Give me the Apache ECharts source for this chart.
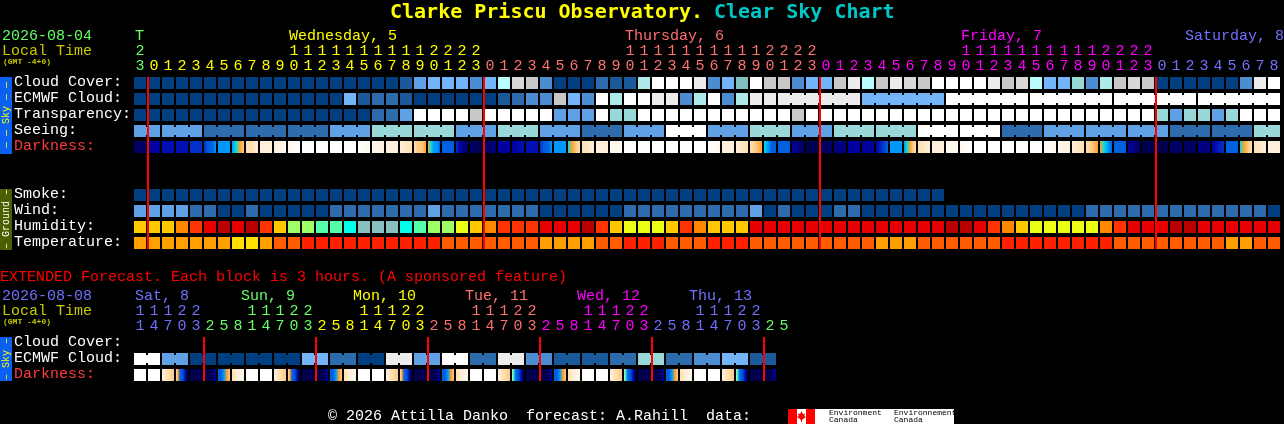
<!DOCTYPE html>
<html><head><meta charset="utf-8"><title>Clear Sky Chart</title>
<style>html,body{margin:0;padding:0;background:#000;overflow:hidden}#c{width:1284px;height:424px}</style>
<script src="https://cdn.jsdelivr.net/npm/echarts@6/dist/echarts.min.js"></script></head>
<body><div id="c"></div>
<script>
// ---------- tick labels ----------
const mainHours = [23,0,1,2,3,4,5,6,7,8,9,10,11,12,13,14,15,16,17,18,19,20,21,22,23,
  0,1,2,3,4,5,6,7,8,9,10,11,12,13,14,15,16,17,18,19,20,21,22,23,
  0,1,2,3,4,5,6,7,8,9,10,11,12,13,14,15,16,17,18,19,20,21,22,23,
  0,1,2,3,4,5,6,7,8];
const mainDayOfCell = [0, 1,1,1,1,1,1,1,1,1,1,1,1,1,1,1,1,1,1,1,1,1,1,1,1,
  2,2,2,2,2,2,2,2,2,2,2,2,2,2,2,2,2,2,2,2,2,2,2,2,
  3,3,3,3,3,3,3,3,3,3,3,3,3,3,3,3,3,3,3,3,3,3,3,3,
  4,4,4,4,4,4,4,4,4];
const extHours = [11,14,17,20,23, 2,5,8,11,14,17,20,23, 2,5,8,11,14,17,20,23,
  2,5,8,11,14,17,20,23, 2,5,8,11,14,17,20,23, 2,5,8,11,14,17,20,23, 2,5];
const extDayOfCell = [0,0,0,0,0, 1,1,1,1,1,1,1,1, 2,2,2,2,2,2,2,2, 3,3,3,3,3,3,3,3,
  4,4,4,4,4,4,4,4, 5,5,5,5,5,5,5,5, 6,6];
const mainDayNames = [[0,'T',0],[11,'Wednesday, 5',1],[35,'Thursday, 6',2],[59,'Friday, 7',3],[75,'Saturday, 8',4]];
const extDayNames = [[0,'Sat, 8',0],[8,'Sun, 9',1],[16,'Mon, 10',2],[24,'Tue, 11',3],[32,'Wed, 12',4],[40,'Thu, 13',5]];
const mainRowNames = ['Cloud Cover:','ECMWF Cloud:','Transparency:','Seeing:','Darkness:','',' ','Smoke:','Wind:','Humidity:','Temperature:'];
const extRowNames = ['Cloud Cover:','ECMWF Cloud:','Darkness:'];
const mainMidnights = [1,25,49,73];
const extMidnights = [5,13,21,29,37,45];

// ---------- series values (levels on each scale) ----------
const cloudCover = [0,0,0,0,0,0,0,0,0,0, 0,0,0,0,0,0,0,0,0,1,
  4,5,5,5,3,5,9,11,10,3, 0,0,0,2,1,1,8,13,13,13,
  12,3,5,6,13,10,10,3,5,5, 10,12,9,10,12,11,10,13,13,13,
  13,12,10,11,9,5,5,7,3,8, 10,11,10,0,0,0,0,0,0,3,12,13];
const ecmwfCloud = [0,0,0,0,0,0,0,0,0,0, 0,0,0,0,0,5,1,2,2,1,
  0,0,0,0,0,0,1,2,3,3, 10,5,3,13,8,13,13,12,12,3,
  8,13,3,8,12,12,12,12,12,12, 12,12,5,5,5,5,5,5,13,13,
  13,13,13,13,13,13,13,13,13,13, 13,13,13,13,13,13,13,13,13,13,13,13];
const ecmwfBlocks = [1,1,1,1,1,1,1,1,1,1,1,1,1,1,1,1,1,1,1,1,1,1,1,1,1,1,1,1,1,1,1,1,1,1,1,1,1,1,1,1,1,1,1,1,1,1, 6,6,6,6,6,6];
const transparency = [0,0,0,0,0,0,0,0,0,0, 0,0,0,0,0,0,0,2,2,4,
  13,13,13,13,10,13,13,13,13,13, 4,4,4,13,7,7,13,13,13,13,
  13,13,13,13,13,13,13,10,13,13, 13,13,13,13,13,13,13,13,13,13,
  13,13,13,13,13,13,13,13,13,13, 13,13,13,7,4,7,7,4,7,13,13,13];
const seeingBlocks = [2,3,3,3,3,3,3,3,3,3,3,3,3,3,3,3,3,3,3,3,3,3,3,3,3,3,3,2];
const seeing = [4,4,2,2,2,4,7,7,4,7,4,2,4,13,4,7,4,7,7,13,13,2,4,4,4,2,2,7];
const darkness = [[1],[3],[4],[4],[5],[5,6,6,7],[7],[7,8,9,10],[11,11,12],[12],
  [12,13],[13,14],[14],[14],[14],[14],[14,13],[13,12],[12],[12,11],
  [11,10,10,9],[9,8,7,7,6],[6],[5,3,2,1],[1,0],[1,2],[3],[3,4],[4],[5,6,6,7],
  [7],[8,9,10,11],[11,12],[12],[13],[14],[14],[14],[14],[14],
  [14],[14,13],[12],[12,11],[11,10,9],[8,7,6,6],[6],[3,2,1],[0],[1],
  [2],[3],[3],[3,5,6],[7],[7,8,9,10,11],[11,12],[12],[13],[13,14],
  [14],[14],[14],[14],[14],[14,13],[13,12],[12,11],[11,10,9],[9,8,7,6],
  [6],[3,2,1],[0],[0],[1],[1],[2],[3,5],[6],[8,9,10,11],[11,12],[12]];
const smoke = [0,0,0,0,0,0,0,0,0,0, 0,0,0,0,0,0,0,0,0,0, 0,0,0,0,0,0,0,0,0,0,
  0,0,0,0,0,0,0,0,0,0, 0,0,0,0,0,0,0,0,0,0, 0,0,0,0,0,0,0,0];
const wind = [4,4,4,4,2,2,0,0,2,0, 0,0,0,0,2,2,2,2,2,2,
  2,4,2,2,2,2,2,2,2,0, 0,0,0,0,0,2,2,2,2,2,
  2,2,2,2,4,0,2,0,0,0, 2,2,0,0,0,0,0,0,0,0,
  0,0,0,0,0,0,0,0,2,2, 2,2,2,2,2,2,2,2,2,2,2,0];
const humidity = [4,4,4,3,2,1,0,1,0,2, 4,6,6,7,7,9,8,8,8,9,
  7,6,6,5,4,3,2,2,2,1, 1,1,0,2,4,5,5,5,4,2,
  3,4,4,4,1,1,1,1,1,1, 1,1,1,1,1,1,1,1,0,0,
  1,2,3,4,5,5,5,5,5,3, 2,1,1,1,0,0,1,1,1,1,1,1];
const temperature = [2,2,2,2,2,2,2,3,3,2, 1,1,0,0,0,0,0,0,0,0,
  0,0,1,1,1,1,1,1,1,2, 2,2,2,1,1,0,0,0,1,1,
  1,0,0,0,1,1,1,1,1,1, 1,1,1,2,2,2,1,1,1,1,
  1,1,0,0,0,0,0,0,0,0, 1,1,1,1,1,1,1,1,2,2,1,1];
const extEcmwf = [13,13,4,4,0,0,0,0,0,0, 0,0,5,5,2,2,0,0,12,12, 4,4,13,13,2,2,12,12,3,3,
  1,1,1,1,2,2,7,7,2,2, 3,3,5,5,1,1];
const extEcmwfBlocks = [2,2,2,2,2,2,2,2,2,2,2,2,2,2,2,2,2,2,2,2,2,2,2];
const extDarkness = [[14],[14],[12,11,10],[11,9,6,6,5,2,0],[0],[0,0,0,1,3],[6,6,7,9,10],[11,12,13],
  [14],[14],[12,11,10],[11,9,6,6,5,2,0],[0],[0,0,0,1,3],[6,6,7,9,10],[11,12,13],
  [14],[14],[12,11,10],[11,9,6,6,5,2,0],[0],[0,0,0,1,3],[6,6,7,9,10],[11,12,13],
  [14],[14],[12,11,10],[11,8,6,6,5,2,0],[0],[0,0,0,1,3],[6,6,7,9,10],[11,12,13],
  [14],[14],[12,11,10],[11,8,6,6,5,2,0],[0],[0,0,0,1,3],[6,6,7,9,10],[11,12,13],
  [14],[14],[12,11,10],[11,8,6,6,5,2,0],[0],[0,0,0,1,3]];

// ---------- palettes ----------
const skyColors = ['#003f7f','#1a5a9a','#2c6cac','#4c8cd0','#60a0e4','#74b4f8','#80c0c0','#98d8d8','#aeeaea','#b8fcfc','#c8c8c8','#d8d8d8','#ececec','#ffffff'];
const humidityColors = ['#b80000','#e60000','#ff3300','#ff8800','#ffc800','#ebff14','#9dff66','#55ffaa','#88c0c0','#00ffe8'];
const temperatureColors = ['#ff2000','#ff5c00','#ffa000','#ffe000'];
const darkColors = ['#00004e','#000064','#000080','#0000a0','#0010b4','#0030c8','#0060e0','#0098fc','#00e0e0','#ffa030','#ffc880','#ffe0b0','#fff0dc','#fff8f0','#ffffff'];
const mainDayColors = ['#66ff66','#ffff00','#ff7070','#ff00ff','#7070ff'];
const extDayColors = ['#7070ff','#66ff66','#ffff00','#ff7070','#ff00ff','#7070ff','#66ff66'];

const MONO = '"Liberation Mono", monospace';
const TITLE_MONO = '"DejaVu Sans Mono", monospace';
const blocksExpand = (vals, sizes) => vals.flatMap((v, i) => Array(sizes[i]).fill(v));
function joins(sizes) {
  const s = new Set(); let p = 0;
  sizes.forEach(n => { for (let k = 0; k < n - 1; k++) s.add(p + k); p += n; });
  return s;
}
function cellGeom(api, x, row) {
  const c = api.coord([x, row]);
  const bw = api.size([1, 0])[0];
  return { x: c[0] - bw / 2 + 1, y: c[1] - 6, w: bw - 2, h: 12 };
}
function cellSeries(xi, yi, row, values, palette, sizes, name) {
  const joined = sizes ? joins(sizes) : new Set();
  return {
    type: 'custom', name, xAxisIndex: xi, yAxisIndex: yi, silent: true, animation: false, z: 2,
    encode: { x: 0, y: 1 },
    data: values.map((v, i) => [i, row, v]),
    renderItem(params, api) {
      const i = api.value(0), g = cellGeom(api, i, api.value(1));
      const fill = palette[api.value(2)];
      const kids = [{ type: 'rect', shape: { x: g.x, y: g.y, width: g.w, height: g.h }, style: { fill } }];
      if (joined.has(i)) kids.push({ type: 'rect', shape: { x: g.x + g.w, y: g.y + 2, width: 2, height: g.h - 4 }, style: { fill } });
      return { type: 'group', children: kids };
    }
  };
}
function darkSeries(xi, yi, row, values, name) {
  return {
    type: 'custom', name, xAxisIndex: xi, yAxisIndex: yi, silent: true, animation: false, z: 2,
    encode: { x: 0, y: 1 },
    data: values.map((v, i) => [i, row]),
    renderItem(params, api) {
      const i = api.value(0), g = cellGeom(api, i, api.value(1));
      const lv = values[i];
      const fill = lv.length === 1 ? darkColors[lv[0]] : new echarts.graphic.LinearGradient(0, 0, 1, 0,
        lv.map((l, k) => ({ offset: k / (lv.length - 1), color: darkColors[l] })));
      return { type: 'rect', shape: { x: g.x, y: g.y, width: g.w, height: g.h }, style: { fill } };
    }
  };
}
function midnightSeries(xi, yi, cells, firstRow, lastRow) {
  return {
    type: 'custom', name: 'midnight', xAxisIndex: xi, yAxisIndex: yi, silent: true, animation: false, z: 5,
    encode: { x: 0, y: 1 },
    data: cells.map(c => [c, firstRow]),
    renderItem(params, api) {
      const c = api.coord([api.value(0), firstRow]);
      const e = api.coord([api.value(0), lastRow]);
      const bw = api.size([1, 0])[0];
      return { type: 'rect', shape: { x: c[0] - bw / 2, y: c[1] - 6, width: 2, height: e[1] - c[1] + 12 }, style: { fill: '#ff0000' } };
    }
  };
}
function dayNameSeries(xi, yi, names, colors, yPix, shift, minX) {
  return {
    type: 'custom', name: 'days', xAxisIndex: xi, yAxisIndex: yi, silent: true, animation: false, z: 3,
    encode: { x: 0, y: 1 },
    data: names.map(n => [n[0], 0]),
    renderItem(params, api) {
      const n = names[params.dataIndex];
      const c = api.coord([api.value(0), 0]);
      return { type: 'text', style: { text: n[1], x: Math.max(c[0] - shift, minX), y: yPix, fill: colors[n[2]], font: '15px ' + MONO, align: 'left', verticalAlign: 'middle' } };
    }
  };
}
function topAxis(gridIndex, labels, dayOf, colors, offset) {
  return {
    type: 'category', gridIndex, position: 'top', offset, data: labels,
    axisLine: { show: false }, axisTick: { show: false }, splitLine: { show: false },
    axisLabel: {
      show: true, interval: 0, margin: 1, fontFamily: MONO, fontSize: 15, hideOverlap: false,
      color: (v, i) => colors[dayOf[i]]
    }
  };
}
function rowAxis(gridIndex, names, margin) {
  const richStyle = c => ({ color: c, fontFamily: MONO, fontSize: 15, padding: [0, 0, 2, 0] });
  return {
    type: 'category', gridIndex, inverse: true, data: names,
    axisLine: { show: false }, axisTick: { show: false }, splitLine: { show: false },
    axisLabel: {
      show: true, interval: 0, margin, align: 'left', fontFamily: MONO, fontSize: 15,
      formatter: v => v.trim() === '' ? '' : (v === 'Darkness:' ? '{d|' + v + '}' : '{n|' + v + '}'),
      rich: { d: richStyle('#ff3b3b'), n: richStyle('#ffffff') }
    }
  };
}
const unit = h => String(h % 10);
const tens = h => h >= 10 ? String(Math.floor(h / 10)) : '';
function sideText(text, color, y) {
  return { type: 'text', rotation: Math.PI / 2, x: 6, y, z: 10, silent: true,
    style: { text, fill: color, font: '10px ' + MONO, align: 'center', verticalAlign: 'middle' } };
}
function plain(text, x, y, fill, font) {
  return { type: 'text', x, y, z: 10, silent: true, style: { text, fill, font: font || ('15px ' + MONO), align: 'left', verticalAlign: 'middle' } };
}
function box(x, y, width, height, fill) {
  return { type: 'rect', z: 9, silent: true, shape: { x, y, width, height }, style: { fill } };
}
const leaf = [[801.5,411],[803,414],[805,413.5],[804.3,416],[806,417],[803,419],[803,420],[802,419.5],[802,422],[801,422],[801,419.5],[800,420],[800,419],[797,417],[798.7,416],[798,413.5],[800,414]];

const option = {
  backgroundColor: '#000000', animation: false,
  grid: [
    { left: 133, top: 75, width: 1148, height: 176, containLabel: false },
    { left: 133, top: 335, width: 658, height: 48, containLabel: false }
  ],
  xAxis: [
    topAxis(0, mainHours.map(unit), mainDayOfCell, mainDayColors, 0),
    topAxis(0, mainHours.map(tens), mainDayOfCell, mainDayColors, 15),
    topAxis(1, extHours.map(unit), extDayOfCell, extDayColors, 0),
    topAxis(1, extHours.map(tens), extDayOfCell, extDayColors, 15)
  ],
  yAxis: [ rowAxis(0, mainRowNames, 119), rowAxis(1, extRowNames, 119) ],
  graphic: { elements: [
    { type: 'text', x: 390, y: 13, z: 10, silent: true, style: { text: 'Clarke Priscu Observatory. ', fill: '#ffff00', font: 'bold 20px ' + TITLE_MONO, align: 'left', verticalAlign: 'middle' } },
    { type: 'text', x: 714, y: 13, z: 10, silent: true, style: { text: 'Clear Sky Chart', fill: '#00c8c8', font: 'bold 20px ' + TITLE_MONO, align: 'left', verticalAlign: 'middle' } },
    plain('2026-08-04', 2, 36, '#66ff66'),
    plain('Local Time', 2, 51, '#c8c800'),
    plain('(GMT -4+0)', 3, 62, '#c8c800', 'bold 8px ' + MONO),
    box(0, 77, 12, 77, '#0a60f0'), sideText('\u2014 \u2014 Sky \u2014 \u2014', '#ffff00', 115),
    box(0, 189, 12, 61, '#4a6000'), sideText('\u2013 Ground \u2013', '#ffffff', 219),
    plain('EXTENDED Forecast. Each block is 3 hours. (A sponsored feature)', 0, 277, '#ff0000'),
    plain('2026-08-08', 2, 296, '#7070ff'),
    plain('Local Time', 2, 311, '#c8c800'),
    plain('(GMT -4+0)', 3, 322, '#c8c800', 'bold 8px ' + MONO),
    box(0, 337, 12, 44, '#0a60f0'), sideText('\u2013 Sky \u2013', '#ffff00', 359),
    plain('\u00a9 2026 Attilla Danko  forecast: A.Rahill  data:', 328, 416, '#ffffff'),
    box(788, 409, 166, 15, '#ffffff'),
    box(788, 409, 9, 15, '#ff0000'),
    box(806, 409, 9, 15, '#ff0000'),
    { type: 'polygon', z: 10, silent: true, shape: { points: leaf }, style: { fill: '#ff0000' } },
    plain('Environment', 829, 413, '#000000', '8px ' + MONO),
    plain('Canada', 829, 420, '#000000', '8px ' + MONO),
    plain('Environnement', 894, 413, '#000000', '8px ' + MONO),
    plain('Canada', 894, 420, '#000000', '8px ' + MONO)
  ]},
  series: [
    cellSeries(0, 0, 0, cloudCover, skyColors, null, 'Cloud Cover'),
    cellSeries(0, 0, 1, ecmwfCloud, skyColors, ecmwfBlocks, 'ECMWF Cloud'),
    cellSeries(0, 0, 2, transparency, skyColors, null, 'Transparency'),
    cellSeries(0, 0, 3, blocksExpand(seeing, seeingBlocks), skyColors, seeingBlocks, 'Seeing'),
    darkSeries(0, 0, 4, darkness, 'Darkness'),
    cellSeries(0, 0, 7, smoke, skyColors, null, 'Smoke'),
    cellSeries(0, 0, 8, wind, skyColors, null, 'Wind'),
    cellSeries(0, 0, 9, humidity, humidityColors, null, 'Humidity'),
    cellSeries(0, 0, 10, temperature, temperatureColors, null, 'Temperature'),
    midnightSeries(0, 0, mainMidnights, 0, 10),
    dayNameSeries(0, 0, mainDayNames, mainDayColors, 36, 5, 135),
    cellSeries(2, 1, 1, extEcmwf, skyColors, extEcmwfBlocks, 'Ext ECMWF Cloud'),
    darkSeries(2, 1, 2, extDarkness, 'Ext Darkness'),
    midnightSeries(2, 1, extMidnights, 0, 2),
    dayNameSeries(2, 1, extDayNames, extDayColors, 296, 11, 135)
  ]
};
const chart = echarts.init(document.getElementById('c'), null, { renderer: 'canvas', width: 1284, height: 424 });
chart.setOption(option);
</script></body></html>
